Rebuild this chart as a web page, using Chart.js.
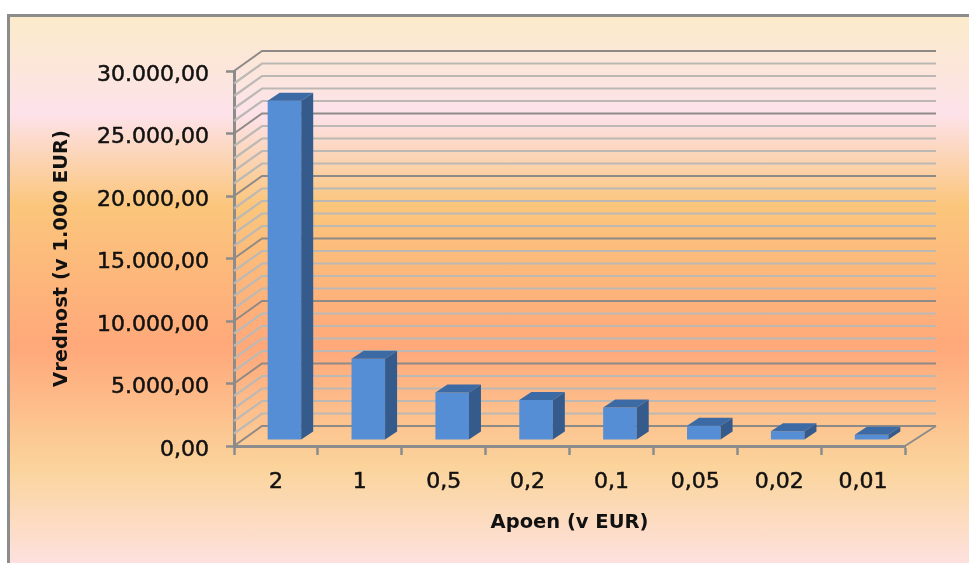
<!DOCTYPE html>
<html>
<head>
<meta charset="utf-8">
<script src="https://cdn.jsdelivr.net/npm/chart.js@4"></script>
<style>
html,body{margin:0;padding:0;background:#fff;overflow:hidden;width:969px;height:563px}
#panel{position:absolute;left:7px;top:14px;width:962px;height:549px;box-sizing:border-box;
border-left:3px solid #8c8c8c;border-top:3px solid #8c8c8c;
background:linear-gradient(to bottom,#fbebca 0px,#fde2ea 97px,#fbc67c 188px,#ffa87a 330px,#fbd49c 452px,#fde1de 546px)}
#myChart{position:absolute;left:0;top:0;filter:blur(0.55px)}
</style>
</head>
<body>
<div id="panel"></div>
<canvas id="myChart" width="969" height="563"></canvas>
<script>
var categories=['2','1','0,5','0,2','0,1','0,05','0,02','0,01'];
var values=[27150,6500,3800,3200,2600,1150,700,430];
var yMax=30000;
var majorStep=5000;
var minorStep=1000;

var axisColor='#8c8c8c';
var wallDx=28,wallDy=-20,wallRight=936;
var barDx=12,barDy=-8,barShiftX=8.5,barShiftY=-6;
var labelShiftY=4;

var wall3d={
    id:'wall3d',
    beforeDraw:function(chart){
        // DejaVu sits a little high on the 'middle' baseline
        chart.scales.y.getLabelItems().forEach(function(item){
            if(!item.shifted)
            {
                item.options.translation[1]+=labelShiftY;
                item.shifted=true;
            }
        });
    },
    beforeDatasetsDraw:function(chart){
        var ctx=chart.ctx,y=chart.scales.y,a=chart.chartArea;
        ctx.save();
        for(var v=0;v<=yMax;v+=minorStep)
        {
            var p=y.getPixelForValue(v);
            var major=v%majorStep==0;
            ctx.strokeStyle=major?'#8e8a88':'#bcb9b5';
            ctx.lineWidth=major?2:2.2;
            ctx.beginPath();
            ctx.moveTo(a.left,p);
            ctx.lineTo(a.left+wallDx,p+wallDy);
            ctx.lineTo(wallRight,p+wallDy);
            ctx.stroke();
        }
        // right end of the floor
        ctx.strokeStyle=axisColor;
        ctx.lineWidth=2;
        ctx.beginPath();
        ctx.moveTo(a.right,a.bottom);
        ctx.lineTo(wallRight,a.bottom+wallDy);
        ctx.stroke();
        ctx.restore();
        // bars stand in the middle of the floor
        ctx.save();
        ctx.translate(barShiftX,barShiftY);
    },
    afterDatasetsDraw:function(chart){
        var ctx=chart.ctx;
        chart.getDatasetMeta(0).data.forEach(function(bar){
            var l=bar.x-bar.width/2,r=bar.x+bar.width/2;
            ctx.fillStyle='#345b8c';
            ctx.beginPath();
            ctx.moveTo(r,bar.y);
            ctx.lineTo(r+barDx,bar.y+barDy);
            ctx.lineTo(r+barDx,bar.base+barDy);
            ctx.lineTo(r,bar.base);
            ctx.closePath();
            ctx.fill();
            ctx.fillStyle='#3c6aa5';
            ctx.beginPath();
            ctx.moveTo(l,bar.y);
            ctx.lineTo(l+barDx,bar.y+barDy);
            ctx.lineTo(r+barDx,bar.y+barDy);
            ctx.lineTo(r,bar.y);
            ctx.closePath();
            ctx.fill();
        });
        ctx.restore();
    }
};

new Chart('myChart',{
    type:'bar',
    data:{
        labels:categories,
        datasets:[{
            data:values,
            backgroundColor:'#558ed5',
            categoryPercentage:1,
            barPercentage:0.4
        }]
    },
    plugins:[wall3d],
    options:{
        responsive:false,
        animation:false,
        devicePixelRatio:1,
        layout:{padding:{top:71,right:64,left:0,bottom:0}},
        plugins:{legend:{display:false},tooltip:{enabled:false}},
        scales:{
            x:{
                afterFit:function(s){s.height=117;},
                grid:{drawOnChartArea:false,color:axisColor,tickLength:9,tickWidth:2.5},
                border:{color:axisColor,width:3},
                ticks:{color:'#111',font:{family:'DejaVu Sans',size:22},padding:14,textStrokeColor:'#111',textStrokeWidth:0.5},
                title:{display:true,text:'Apoen (v EUR)',color:'#111',
                    font:{family:'DejaVu Sans',size:19.5,weight:'bold'},padding:{top:0,bottom:28}}
            },
            y:{
                min:0,
                max:yMax,
                afterFit:function(s){s.width=234;},
                grid:{drawOnChartArea:false,color:axisColor,tickLength:8,tickWidth:2.5},
                border:{color:axisColor,width:3},
                ticks:{stepSize:majorStep,color:'#111',font:{family:'DejaVu Sans',size:22},padding:17,textStrokeColor:'#111',textStrokeWidth:0.5,
                    callback:function(v){return v.toLocaleString('de-DE',{minimumFractionDigits:2,maximumFractionDigits:2});}},
                title:{display:true,text:'Vrednost (v 1.000 EUR)',color:'#111',
                    font:{family:'DejaVu Sans',size:19.5,weight:'bold'},padding:{top:50,bottom:0}}
            }
        }
    }
});
</script>
</body>
</html>
